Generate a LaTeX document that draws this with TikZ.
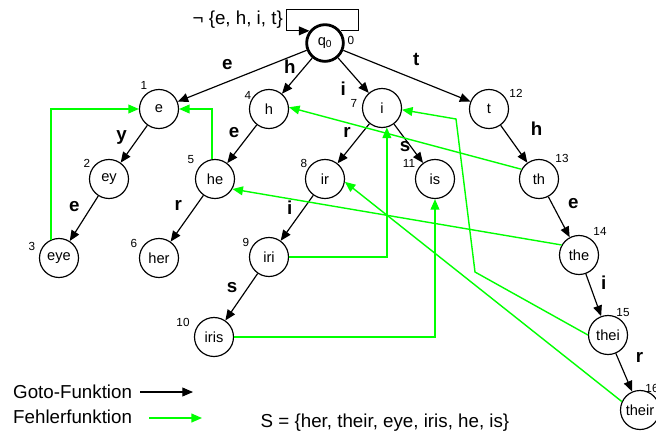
\documentclass[tikz,border=0pt]{standalone}
\usepackage{fontspec}
\setmainfont{Liberation Sans}
\usetikzlibrary{arrows.meta, calc}
\definecolor{failgreen}{RGB}{0,255,0}
\tikzset{
  % trie states
  state/.style={circle, draw=black, line width=1pt, minimum size=1.17cm,
    inner sep=0pt, font=\fontsize{12.5}{14}\selectfont},
  startstate/.style={state, line width=2.4pt, minimum size=1.1cm},
  num/.style={font=\fontsize{10}{12}\selectfont, inner sep=0pt},
  lbl/.style={font=\fontsize{16}{18}\selectfont\bfseries, inner sep=3pt, auto},
  % goto and failure transitions
  goto/.style={-{Triangle[length=9pt, width=7.5pt]}, line width=1pt},
  fail/.style={-{Triangle[length=9pt, width=7.5pt]}, failgreen, line width=1.2pt},
  plain/.style={font=\fontsize{16}{18}\selectfont, inner sep=0pt}
}

\begin{document}
\begin{tikzpicture}[x=0.03cm, y=-0.03cm]
  \useasboundingbox (0,0) rectangle (656,437);

  % States
  \node[startstate] (q0) at (325,43) {q\textsubscript{0}};
  \node[state] (e) at (159,109) {e};
  \node[state] (ey) at (109,179) {ey};
  \node[state] (eye) at (59,258) {eye};
  \node[state] (h) at (269,109) {h};
  \node[state] (he) at (215,179) {he};
  \node[state] (her) at (159,258) {her};
  \node[state] (i) at (382,108) {i};
  \node[state] (ir) at (325,179) {ir};
  \node[state] (iri) at (269,257) {iri};
  \node[state] (iris) at (214,337) {iris};
  \node[state] (is) at (435,179) {is};
  \node[state] (t) at (489,109) {t};
  \node[state] (th) at (539,179) {th};
  \node[state] (the) at (579,255) {the};
  \node[state] (thei) at (608,335) {thei};
  \node[state] (their) at (640,410) {their};

  % State numbers
  \foreach \s/\dx/\dy/\k in {q0/26/-3/0, e/-15/-24/1, ey/-22/-16/2, eye/-27/-12/3,
      h/-21/-14/4, he/-24/-19/5, her/-25/-15/6, i/-28/-5/7, ir/-21/-16/8,
      iri/-23/-15/9, iris/-31/-15/10, is/-26/-16/11, t/27/-16/12, th/23/-21/13,
      the/21/-24/14, thei/15/-22/15, their/12/-22/16}
    \node[num] (n\k) at ($(\s)+(\dx,\dy)$) {\k};

  % Self loop on the start state
  \draw[goto] (q0.38) -- ++(18,0) -- ++(0,-21) -- ++(-72,0) -- ++(0,21) -- (q0.142);
  \node[plain, anchor=east] (loopset) at (283,20) {¬ \{e, h, i, t\}};

  % Goto function
  \draw[goto] (q0) -- node[lbl, swap, pos=.52, inner sep=5.5pt] {e} (e);
  \draw[goto] (q0) -- node[lbl, swap, pos=.49, inner sep=1pt] {h} (h);
  \draw[goto] (q0) -- node[lbl, swap, pos=.48, inner sep=5.5pt] {i} (i);
  \draw[goto] (q0) -- node[lbl, pos=.48, inner sep=7pt] {t} (t);
  \draw[goto] (e) -- node[lbl, swap, pos=.62] {y} (ey);
  \draw[goto] (ey) -- node[lbl, swap, pos=.47, inner sep=4pt] {e} (eye);
  \draw[goto] (h) -- node[lbl, swap, pos=.45] {e} (he);
  \draw[goto] (he) -- node[lbl, swap, pos=.46, inner sep=5pt] {r} (her);
  \draw[goto] (i) -- node[lbl, swap, pos=.46] {r} (ir);
  \draw[goto] (i) -- node[lbl, swap, pos=.5, inner sep=0pt, xshift=2pt, yshift=2pt] {s} (is);
  \draw[goto] (ir) -- node[lbl, swap, pos=.52] {i} (iri);
  \draw[goto] (iri) -- node[lbl, swap, pos=.5] {s} (iris);
  \draw[goto] (t) -- node[lbl, pos=.63, inner sep=11pt] {h} (th);
  \draw[goto] (th) -- node[lbl, pos=.51, inner sep=7pt] {e} (the);
  \draw[goto] (the) -- node[lbl, pos=.53, inner sep=5.5pt] {i} (thei);
  \draw[goto] (thei) -- node[lbl, pos=.54, inner sep=9pt] {r} (their);

  % Failure function
  \coordinate (b1) at (475,272);
  \coordinate (b2) at (456,119);
  \draw[fail] (eye.114) |- (e.west);
  \draw[fail] (he.99) |- (e.east);
  \draw[fail] (th.151) -- (h.5);
  \draw[fail] (the.150) -- (he.-30);
  \draw[fail] (iri.east) -| (i.-76);
  \draw[fail] (iris.east) -| (is.south);
  \draw[fail] (thei.west) -- (b1) -- (b2) -- (i.-5);
  \draw[fail] (their.155) -- (ir.-8);

  % Legend
  \node[plain, anchor=west] (gotolbl) at (13,392) {Goto-Funktion};
  \node[plain, anchor=west] (faillbl) at (13,417) {Fehlerfunktion};
  \coordinate (g1) at (140,392);
  \coordinate (g2) at (193,392);
  \coordinate (f1) at (149,418);
  \coordinate (f2) at (202,418);
  \draw[goto, line width=0.9pt] (g1) -- (g2);
  \draw[fail] (f1) -- (f2);

  \node[plain] (wordset) at (385,423) {S = \{her, their, eye, iris, he, is\}};
\end{tikzpicture}
\end{document}
